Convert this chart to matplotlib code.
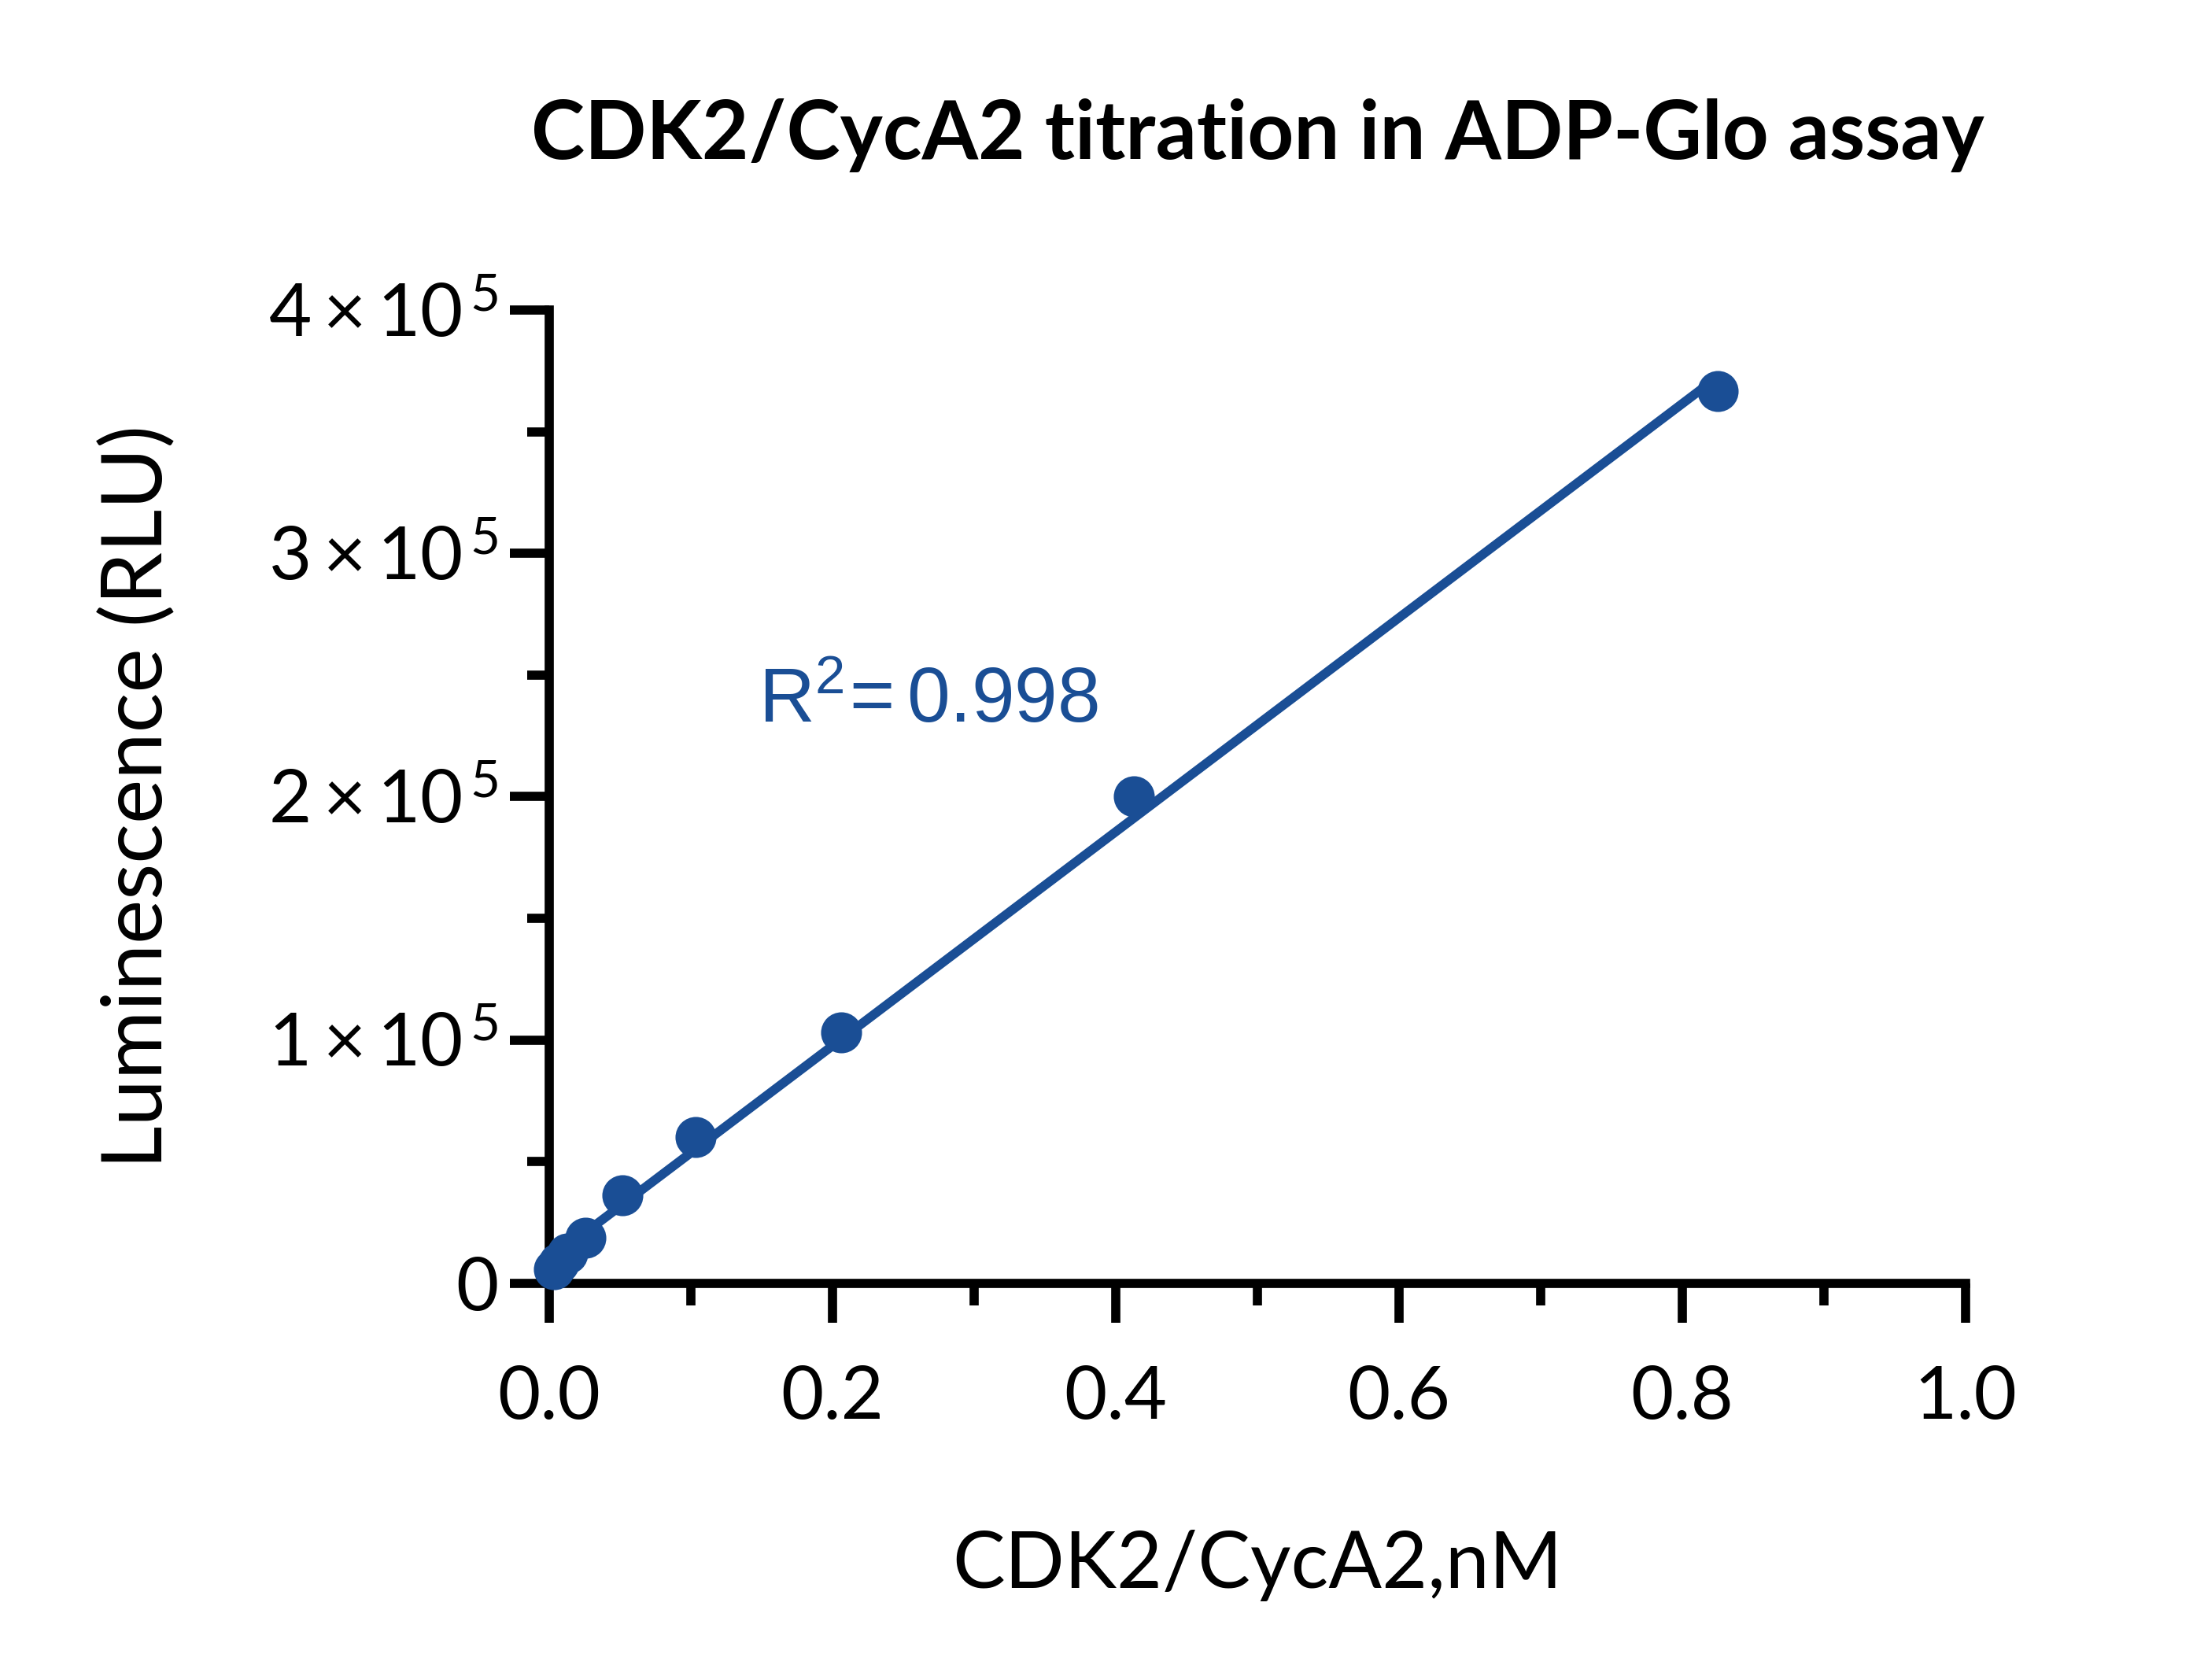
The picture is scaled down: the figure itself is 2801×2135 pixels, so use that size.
import numpy as np
import matplotlib
matplotlib.use("Agg")
import matplotlib.pyplot as plt
from matplotlib.ticker import FixedLocator, MultipleLocator, FuncFormatter

# ---------------- data ----------------
conc_nM = [0.825, 0.4125, 0.20625, 0.103125, 0.0515625, 0.02578, 0.01289, 0.00645, 0.00322]
lum_rlu = [366700, 200000, 103200, 60000, 36200, 18800, 12300, 8500, 5800]
title = "CDK2/CycA2 titration in ADP-Glo assay"
xlabel = "CDK2/CycA2,nM"
ylabel = "Luminescence (RLU)"
r2_text = "0.998"
x_ticks = [0.0, 0.2, 0.4, 0.6, 0.8, 1.0]
y_ticks = [0, 100000, 200000, 300000, 400000]

# ---------------- style ----------------
plt.rcParams["font.family"] = ["Lato", "DejaVu Sans"]
plt.rcParams["mathtext.fontset"] = "custom"
plt.rcParams["mathtext.rm"] = "Lato"
plt.rcParams["mathtext.it"] = "Lato:italic"
plt.rcParams["mathtext.bf"] = "Lato:bold"
plt.rcParams["mathtext.sf"] = "Liberation Sans"

blue = "#1a4e95"
lw = 2.8

W, H, DPI = 2801, 2135, 300
fig = plt.figure(figsize=(W / DPI, H / DPI), dpi=DPI)
ax = fig.add_axes([698 / W, 504 / H, 1800 / W, 1237 / H])

x = np.array(conc_nM)
y = np.array(lum_rlu)
slope, intercept = np.polyfit(x, y, 1)
xf = np.array([x.min(), x.max()])
ax.plot(xf, slope * xf + intercept, color=blue, lw=lw, solid_capstyle="butt", zorder=3, clip_on=False)
ax.plot(x, y, "o", color=blue, ms=11.5, mec=blue, zorder=4, clip_on=False)

ax.set_xlim(0, 1.0)
ax.set_ylim(0, 400000)

ax.xaxis.set_major_locator(FixedLocator(x_ticks))
ax.xaxis.set_minor_locator(MultipleLocator(0.1))
ax.yaxis.set_major_locator(FixedLocator(y_ticks))
ax.yaxis.set_minor_locator(MultipleLocator(50000))


def yfmt(v, pos):
    if v == 0:
        return "0"
    m = int(round(v / 1e5))
    return r"$\mathrm{%d\times10^{\,5}}$" % m


ax.yaxis.set_major_formatter(FuncFormatter(yfmt))
ax.xaxis.set_major_formatter(FuncFormatter(lambda v, p: "%.1f" % v))

for s in ["top", "right"]:
    ax.spines[s].set_visible(False)
for s in ["left", "bottom"]:
    ax.spines[s].set_linewidth(lw)
    ax.spines[s].set_capstyle("projecting")

ax.tick_params(axis="both", which="major", direction="out", length=12, width=lw, labelsize=22.5, color="black")
ax.tick_params(axis="both", which="minor", direction="out", length=6.7, width=lw)
ax.tick_params(axis="x", which="major", pad=13)
ax.tick_params(axis="y", which="major", pad=3.5)

ax.set_xlabel(xlabel, fontsize=24)
ax.xaxis.label.set_va("baseline")
ax.xaxis.set_label_coords(0.5, (1631 - 2018) / 1237)

ax.set_ylabel(ylabel, fontsize=25.5)
ax.yaxis.label.set_va("center")
ax.yaxis.set_label_coords((175 - 698) / 1800, 0.5)

ax.set_title(title, fontsize=24.7, fontweight="bold", y=(1631 - 202) / 1237, pad=0, va="baseline")

ax.text(0.148, 230700, r"$\mathsf{R^{2}\!=0.998}$".replace("0.998", r2_text),
        color=blue, fontsize=23.6, ha="left", va="baseline")

fig.savefig("out.png", dpi=DPI, facecolor="white")
